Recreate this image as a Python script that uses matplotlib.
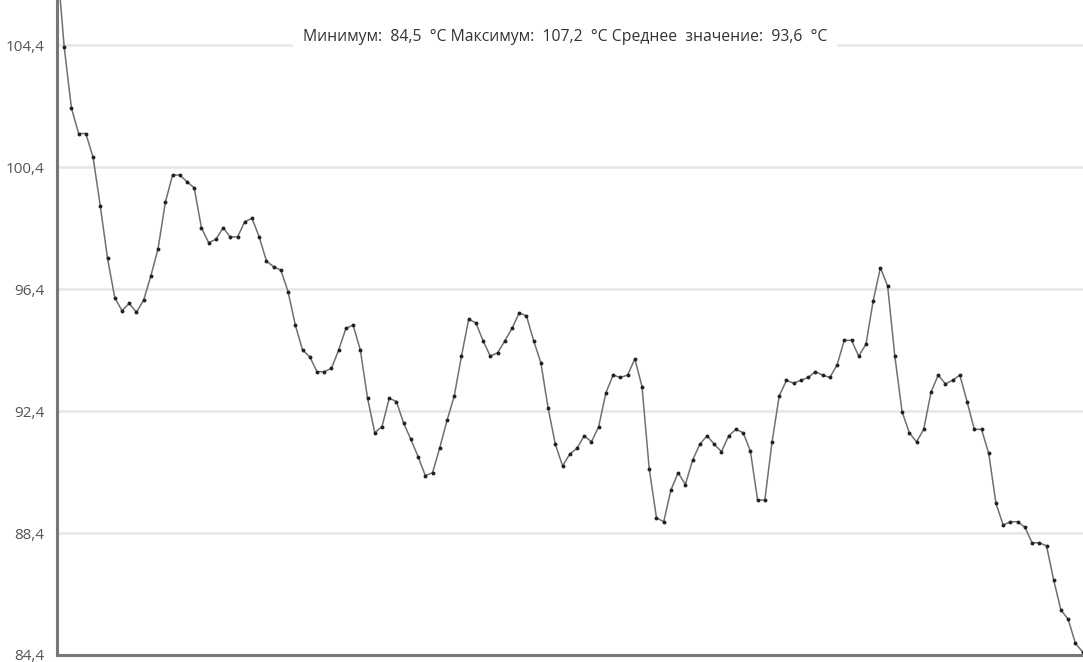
import matplotlib
matplotlib.use("Agg")
import matplotlib.pyplot as plt
from matplotlib.ticker import FuncFormatter
import numpy as np

# temperature readings
temps = [
    107.2, 104.34, 102.34, 101.5, 101.5, 100.72, 99.12, 97.41, 96.12, 95.69,
    95.93, 95.64, 96.04, 96.83, 97.73, 99.24, 100.14, 100.14, 99.92, 99.72,
    98.41, 97.92, 98.03, 98.41, 98.11, 98.11, 98.61, 98.72, 98.11, 97.32,
    97.13, 97.02, 96.31, 95.22, 94.40, 94.18, 93.69, 93.69, 93.80, 94.40,
    95.11, 95.22, 94.40, 92.82, 91.69, 91.89, 92.82, 92.71, 92.0, 91.47,
    90.90, 90.28, 90.38, 91.20, 92.09, 92.89, 94.2, 95.41, 95.29, 94.70,
    94.2, 94.31, 94.70, 95.11, 95.62, 95.52, 94.70, 93.98, 92.49, 91.31,
    90.60, 90.99, 91.18, 91.59, 91.39, 91.89, 93.0, 93.58, 93.50, 93.58,
    94.11, 93.2, 90.49, 88.90, 88.77, 89.81, 90.38, 89.99, 90.79, 91.31,
    91.59, 91.31, 91.07, 91.59, 91.80, 91.69, 91.09, 89.48, 89.48, 91.39,
    92.90, 93.41, 93.31, 93.41, 93.50, 93.69, 93.58, 93.50, 93.91, 94.72,
    94.72, 94.20, 94.59, 96.01, 97.10, 96.50, 94.20, 92.38, 91.69, 91.39,
    91.80, 93.01, 93.58, 93.29, 93.41, 93.58, 92.71, 91.80, 91.80, 91.01,
    89.37, 88.66, 88.77, 88.77, 88.59, 88.08, 88.08, 87.98, 86.85, 85.87,
    85.57, 84.78, 84.5,
]
yticks = [84.4, 88.4, 92.4, 96.4, 100.4, 104.4]
summary = "Минимум:  84,5  °C Максимум:  107,2  °C Среднее  значение:  93,6  °C"

plt.rcParams['font.family'] = ['Open Sans', 'DejaVu Sans']

fig = plt.figure(figsize=(10.83, 6.62), dpi=100)
ax = fig.add_axes([0.0526, 0.0106, 0.9474, 0.9894])

x = np.arange(len(temps))
ax.plot(x, temps, color='#707070', linewidth=1.1, marker='o',
        markersize=1.8, markerfacecolor='#222222', markeredgecolor='#222222', zorder=3)

ax.set_xlim(0, len(temps) - 1 + 0.05)
ax.set_ylim(84.4, 105.88)
ax.set_yticks(yticks)
ax.yaxis.set_major_formatter(FuncFormatter(lambda v, p: f"{v:.1f}".replace('.', ',')))
ax.set_xticks([])
ax.tick_params(axis='y', length=0, labelsize=11, labelcolor='#555555', pad=9)

ax.grid(axis='y', color='#e6e6e6', linewidth=1.8)
ax.set_axisbelow(True)
for s in ['top', 'right']:
    ax.spines[s].set_visible(False)
for s in ['left', 'bottom']:
    ax.spines[s].set_color('#777777')
    ax.spines[s].set_linewidth(2.2)

fig.text(0.522, 0.944, summary, ha='center', va='center', fontsize=11.3,
         color='#333333', zorder=5,
         bbox=dict(facecolor='white', edgecolor='none', pad=7))

fig.savefig('out.png', dpi=100)
